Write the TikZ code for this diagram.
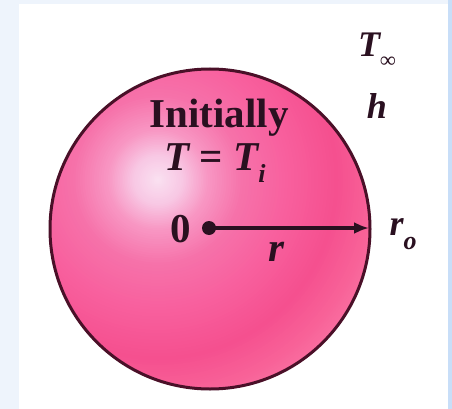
\documentclass[tikz,border=0pt]{standalone}
\usepackage{fontspec}
\setmainfont{Liberation Serif}
\usetikzlibrary{arrows.meta}
\definecolor{bgblue}{HTML}{EEF4FC}
\definecolor{bgright}{HTML}{C8DEF8}
\definecolor{rim}{HTML}{4A1028}
\definecolor{ink}{HTML}{2A1020}
\definecolor{sA}{HTML}{FAE2F2}
\definecolor{sB}{HTML}{F8C8E4}
\definecolor{sC}{HTML}{F898C4}
\definecolor{sD}{HTML}{F672AA}
\definecolor{sE}{HTML}{F8609E}
\definecolor{sF}{HTML}{F5508F}
\definecolor{sG}{HTML}{F86298}
\definecolor{sH}{HTML}{FA78A8}
\tikzset{
  lab/.style={text=ink, inner sep=0pt, font=\fontsize{41}{44}\selectfont\bfseries},
  labi/.style={lab, font=\fontsize{41}{44}\selectfont\bfseries\itshape},
  labs/.style={lab, font=\fontsize{36}{40}\selectfont\bfseries\itshape},
}
\begin{document}
\begin{tikzpicture}[x=1pt,y=-1pt]
\useasboundingbox (0,0) rectangle (452,409);
\fill[bgblue] (0,0) rectangle (452,409);
\fill[white] (19,4) rectangle (448,409);
\fill[bgright] (448,0) rectangle (452,409);
% sphere
\coordinate (c) at (210,229);
\coordinate (hl) at (158,180);
\begin{scope}
\clip (c) circle (160);
\foreach \ro/\ri/\co/\ci in {250/215/sH/sG, 215/180/sG/sF, 180/130/sF/sE, 130/85/sE/sD, 85/50/sD/sC, 50/25/sC/sB, 25/0/sB/sA}{
  \foreach \k in {0,...,14}{
    \pgfmathsetmacro\rr{\ro-(\ro-\ri)*\k/15}
    \pgfmathsetmacro\pp{100*\k/15}
    \fill[\ci!\pp!\co] (hl) circle (\rr);
  }
}
\end{scope}
\draw[rim, line width=3pt] (c) circle (160);
\coordinate (o) at (209,228);
\coordinate (e) at (369,228);
\fill[ink] (o) circle (7);
\draw[ink, line width=3.6pt, -{Latex[length=15pt,width=12pt]}] (o) -- (e);
% labels
\node[lab] (init) at (219,118) {Initially};
\node[labi] (tti) at (215,163) {T {\upshape=} T\raisebox{-0.3em}{\fontsize{26}{28}\selectfont i}};
\node[lab] (zero) at (181,229) {0};
\node[labi] (r) at (276,252) {r};
\node[labs] (ro) at (403,234) {r\raisebox{-0.4em}{\fontsize{26}{28}\selectfont o}};
\node[labs] (tinf) at (377,50) {T\raisebox{-0.3em}{\fontsize{22}{24}\selectfont\upshape ∞}};
\node[labs] (h) at (377,106) {h};
\end{tikzpicture}
\end{document}
